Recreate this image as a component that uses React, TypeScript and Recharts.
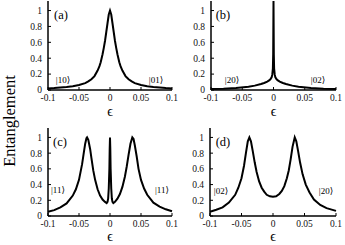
import React from 'react';
import { LineChart, Line, XAxis, YAxis } from 'recharts';

const xTicks = [-0.1, -0.05, 0, 0.05, 0.1];
const yTicks = [0, 0.2, 0.4, 0.6, 0.8, 1];
const xTickLabels = ['-0.1', '-0.05', '0', '0.05', '0.1'];
const yTickLabels = ['0', '0.2', '0.4', '0.6', '0.8', '1'];

const epsA = [-0.1, -0.09, -0.08, -0.07, -0.06, -0.05, -0.04, -0.035, -0.03, -0.025, -0.02, -0.017, -0.015, -0.012, -0.01, -0.008, -0.006, -0.004, -0.002, 0, 0.002, 0.004, 0.006, 0.008, 0.01, 0.012, 0.015, 0.017, 0.02, 0.025, 0.03, 0.035, 0.04, 0.05, 0.06, 0.07, 0.08, 0.09, 0.1];
const entA = [0.02, 0.024, 0.03, 0.037, 0.046, 0.062, 0.087, 0.108, 0.135, 0.175, 0.245, 0.3, 0.35, 0.45, 0.53, 0.62, 0.73, 0.84, 0.95, 1.0, 0.95, 0.84, 0.73, 0.62, 0.53, 0.45, 0.35, 0.3, 0.245, 0.175, 0.135, 0.108, 0.087, 0.062, 0.046, 0.037, 0.03, 0.024, 0.02];

const epsB = [-0.1, -0.08, -0.06, -0.04, -0.03, -0.02, -0.015, -0.01, -0.007, -0.005, -0.003, -0.002, -0.001, -0.0005, 0, 0.0005, 0.001, 0.002, 0.003, 0.005, 0.007, 0.01, 0.015, 0.02, 0.03, 0.04, 0.06, 0.08, 0.1];
const entB = [0.012, 0.017, 0.026, 0.042, 0.055, 0.075, 0.088, 0.105, 0.12, 0.135, 0.16, 0.19, 0.27, 0.45, 1.12, 0.45, 0.27, 0.19, 0.16, 0.135, 0.12, 0.105, 0.088, 0.075, 0.055, 0.042, 0.026, 0.017, 0.012];

const epsC = [-0.1, -0.09, -0.08, -0.07, -0.06, -0.055, -0.05, -0.045, -0.042, -0.04, -0.038, -0.037, -0.035, -0.032, -0.03, -0.027, -0.024, -0.02, -0.016, -0.012, -0.008, -0.0054, -0.004, -0.003, -0.002, -0.001, -0.0005, 0, 0.0005, 0.001, 0.002, 0.003, 0.004, 0.0054, 0.008, 0.012, 0.016, 0.02, 0.024, 0.027, 0.03, 0.033, 0.036, 0.038, 0.04, 0.043, 0.046, 0.05, 0.055, 0.06, 0.07, 0.08, 0.09, 0.1];
const entC = [0.055, 0.075, 0.11, 0.16, 0.26, 0.34, 0.46, 0.66, 0.82, 0.92, 0.99, 1.0, 0.97, 0.85, 0.74, 0.58, 0.46, 0.34, 0.26, 0.21, 0.18, 0.165, 0.18, 0.22, 0.35, 0.6, 0.85, 1.0, 0.85, 0.6, 0.35, 0.22, 0.18, 0.165, 0.18, 0.22, 0.28, 0.37, 0.5, 0.63, 0.78, 0.92, 1.0, 0.98, 0.9, 0.76, 0.6, 0.46, 0.35, 0.27, 0.17, 0.12, 0.085, 0.06];

const epsD = [-0.1, -0.09, -0.08, -0.07, -0.06, -0.055, -0.05, -0.046, -0.043, -0.04, -0.0375, -0.035, -0.032, -0.029, -0.026, -0.022, -0.018, -0.014, -0.01, -0.005, 0, 0.005, 0.01, 0.014, 0.018, 0.022, 0.025, 0.028, 0.031, 0.0345, 0.037, 0.04, 0.043, 0.047, 0.052, 0.058, 0.065, 0.075, 0.085, 0.1];
const entD = [0.055, 0.08, 0.11, 0.17, 0.27, 0.36, 0.48, 0.64, 0.8, 0.95, 1.0, 0.95, 0.82, 0.68, 0.56, 0.44, 0.36, 0.31, 0.27, 0.25, 0.245, 0.25, 0.28, 0.32, 0.38, 0.48, 0.58, 0.72, 0.88, 1.0, 0.95, 0.82, 0.68, 0.53, 0.4, 0.3, 0.21, 0.14, 0.1, 0.065];

const panelLabels = ['(a)', '(b)', '(c)', '(d)'];
const ketsLeft = ['|10⟩', '|20⟩', '|11⟩', '|02⟩'];
const ketsRight = ['|01⟩', '|02⟩', '|11⟩', '|20⟩'];

const FONT = '"Liberation Serif", "DejaVu Serif", serif';

const build = (xs: number[], ys: number[]) => xs.map((x, i) => ({ x, y: ys[i] }));

const fmtX = (v: number) => {
  const i = xTicks.findIndex((t) => Math.abs(t - v) < 1e-9);
  return i >= 0 ? xTickLabels[i] : String(v);
};
const fmtY = (v: number) => {
  const i = yTicks.findIndex((t) => Math.abs(t - v) < 1e-9);
  return i >= 0 ? yTickLabels[i] : String(v);
};

type PanelProps = {
  data: { x: number; y: number }[];
  left: number;
  top: number;
  width: number;
  height: number;
  marginLeft: number;
  marginRight: number;
  plotTop: number;
  plotBottom: number;
};

const tickStyle = { fontSize: 9.5, fill: '#111', fontFamily: FONT };

const Panel = ({ data, left, top, width, height, marginLeft, marginRight, plotTop, plotBottom }: PanelProps) => (
  <div style={{ position: 'absolute', left, top }}>
    <LineChart
      width={width}
      height={height}
      data={data}
      margin={{ top: plotTop, right: marginRight, bottom: 0, left: marginLeft }}
    >
      <XAxis
        xAxisId="b"
        dataKey="x"
        type="number"
        domain={[-0.1, 0.1]}
        ticks={xTicks}
        tickFormatter={fmtX}
        tickSize={-3}
        tickMargin={7}
        height={height - plotBottom}
        stroke="#000"
        axisLine={{ stroke: '#000', strokeWidth: 1.5 }}
        tickLine={{ stroke: '#000' }}
        tick={tickStyle}
        interval={0}
        label={{ value: 'ϵ', position: 'insideBottom', offset: 4, style: { fontSize: 14, fontFamily: FONT, fill: '#000' } }}
      />
      <XAxis
        xAxisId="t"
        orientation="top"
        dataKey="x"
        type="number"
        domain={[-0.1, 0.1]}
        ticks={xTicks}
        tickSize={-3}
        height={0}
        tick={false}
        axisLine={{ stroke: '#000', strokeWidth: 1.5 }}
        tickLine={{ stroke: '#000' }}
        interval={0}
      />
      <YAxis
        yAxisId="l"
        type="number"
        domain={[0, 1.12]}
        ticks={yTicks}
        tickFormatter={fmtY}
        tickSize={-3}
        tickMargin={9}
        width={30}
        axisLine={{ stroke: '#000', strokeWidth: 1.5 }}
        tickLine={{ stroke: '#000' }}
        tick={tickStyle}
        interval={0}
      />
      <YAxis
        yAxisId="r"
        orientation="right"
        type="number"
        domain={[0, 1.12]}
        ticks={yTicks}
        tickSize={-3}
        width={0}
        tick={false}
        axisLine={{ stroke: '#000', strokeWidth: 1.5 }}
        tickLine={{ stroke: '#000' }}
        interval={0}
      />
      <Line
        xAxisId="b"
        yAxisId="l"
        dataKey="y"
        type="linear"
        stroke="#000"
        strokeWidth={2}
        dot={false}
        isAnimationActive={false}
      />
    </LineChart>
  </div>
);

const txt = (s: string, cx: number, cy: number, size: number) => (
  <div
    style={{
      position: 'absolute',
      left: cx - 30,
      top: cy - size * 0.6,
      width: 60,
      textAlign: 'center',
      fontSize: size,
      lineHeight: `${size * 1.2}px`,
      fontFamily: FONT,
      color: '#000',
      whiteSpace: 'nowrap',
    }}
  >
    {s}
  </div>
);

export default function App() {
  return (
    <div style={{ position: 'absolute', left: 0, top: 0, width: 345, height: 245, background: '#fff', overflow: 'hidden' }}>
      <Panel data={build(epsA, entA)} left={0} top={0} width={186} height={120} marginLeft={18} marginRight={14} plotTop={1} plotBottom={90} />
      <Panel data={build(epsB, entB)} left={163} top={0} width={182} height={120} marginLeft={18} marginRight={9} plotTop={1} plotBottom={90} />
      <Panel data={build(epsC, entC)} left={0} top={127} width={186} height={118} marginLeft={18} marginRight={14} plotTop={1} plotBottom={89} />
      <Panel data={build(epsD, entD)} left={162} top={127} width={183} height={118} marginLeft={18} marginRight={9} plotTop={1} plotBottom={89} />
      {txt(panelLabels[0], 61, 15, 12.5)}
      {txt(panelLabels[1], 223, 15, 12.5)}
      {txt(panelLabels[2], 60, 142, 12.5)}
      {txt(panelLabels[3], 223, 142, 12.5)}
      {txt(ketsLeft[0], 63, 80, 9)}
      {txt(ketsRight[0], 156, 80, 9)}
      {txt(ketsLeft[1], 232, 80, 9)}
      {txt(ketsRight[1], 318, 80, 9)}
      {txt(ketsLeft[2], 58, 190, 9)}
      {txt(ketsRight[2], 162, 190, 9)}
      {txt(ketsLeft[3], 221, 191, 9)}
      {txt(ketsRight[3], 326, 191, 9)}
      <div
        style={{
          position: 'absolute',
          left: 10 - 65,
          top: 121 - 10,
          width: 130,
          height: 20,
          lineHeight: '20px',
          textAlign: 'center',
          transform: 'rotate(-90deg)',
          fontSize: 16.5,
          fontFamily: FONT,
          color: '#000',
          whiteSpace: 'nowrap',
        }}
      >
        Entanglement
      </div>
    </div>
  );
}
